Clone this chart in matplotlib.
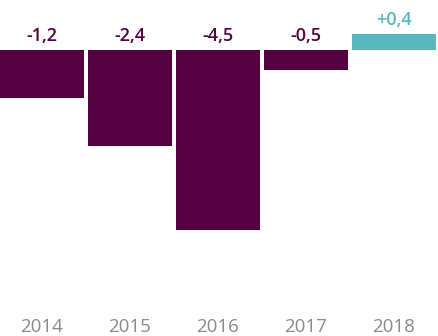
import matplotlib
matplotlib.use("Agg")
import matplotlib.pyplot as plt

# Data
years = ["2014", "2015", "2016", "2017", "2018"]
values = [-1.2, -2.4, -4.5, -0.5, 0.4]
labels = ["-1,2", "-2,4", "-4,5", "-0,5", "+0,4"]

purple = "#550041"
teal = "#58b7bf"
colors = [purple if v < 0 else teal for v in values]

plt.rcParams["font.family"] = ["Open Sans", "DejaVu Sans"]

fig = plt.figure(figsize=(4.38, 3.36), dpi=100)
ax = fig.add_axes([0, 0, 1, 1])

x = list(range(len(years)))
ax.bar(x, values, width=0.955, color=colors)

# Value labels: just above zero for negatives, above the bar for positives
for xi, v, lab, c in zip(x, values, labels, colors):
    ypos = max(v, 0) + 0.36
    ax.text(xi, ypos, lab, ha="center", va="center", fontsize=13,
            fontweight="semibold", color=c)

# Year labels along the bottom
for xi, yr in zip(x, years):
    ax.text(xi, -6.92, yr, ha="center", va="center", fontsize=13.5,
            color="#8a8a8a")

ax.set_xlim(-0.477, 4.5)
ax.set_ylim(-7.15, 1.25)
ax.axis("off")

fig.savefig("out.png", dpi=100)
